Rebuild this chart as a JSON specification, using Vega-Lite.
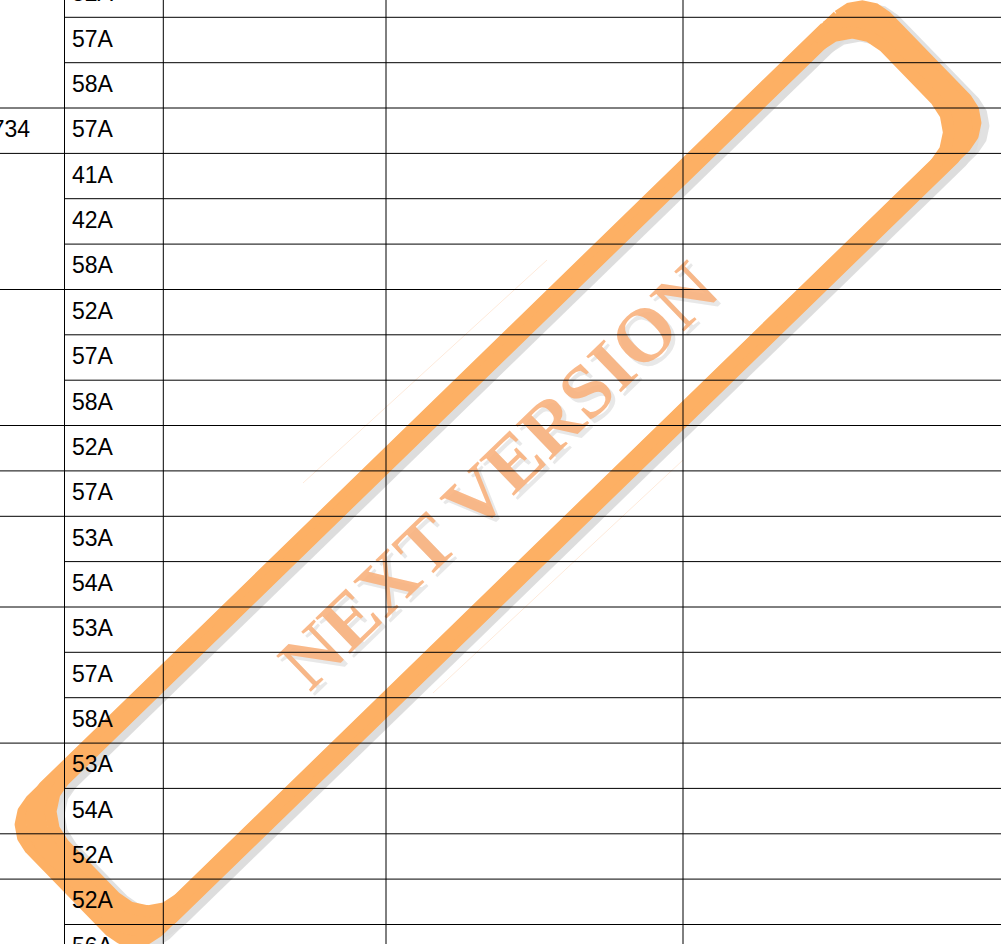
{
  "$schema": "https://vega.github.io/schema/vega-lite/v6.json",
  "width": 1001,
  "height": 944,
  "padding": 0,
  "autosize": {"type": "none"},
  "background": "white",
  "view": {"stroke": null},
  "datasets": {
    "ringMid": [
      {"i": 1, "x": 828.57, "y": 30.72},
      {"i": 2, "x": 841.67, "y": 22.23},
      {"i": 3, "x": 857.01, "y": 19.41},
      {"i": 4, "x": 872.28, "y": 22.66},
      {"i": 5, "x": 885.13, "y": 31.52},
      {"i": 6, "x": 950.86, "y": 99.13},
      {"i": 7, "x": 959.35, "y": 112.23},
      {"i": 8, "x": 962.16, "y": 127.58},
      {"i": 9, "x": 958.92, "y": 142.84},
      {"i": 10, "x": 950.06, "y": 155.69},
      {"i": 11, "x": 169.17, "y": 914.8},
      {"i": 12, "x": 156.08, "y": 923.29},
      {"i": 13, "x": 140.73, "y": 926.11},
      {"i": 14, "x": 125.46, "y": 922.86},
      {"i": 15, "x": 112.62, "y": 914.0},
      {"i": 16, "x": 46.89, "y": 846.39},
      {"i": 17, "x": 38.39, "y": 833.29},
      {"i": 18, "x": 35.58, "y": 817.94},
      {"i": 19, "x": 38.83, "y": 802.68},
      {"i": 20, "x": 47.68, "y": 789.83},
      {"i": 21, "x": 828.57, "y": 30.72}
    ],
    "ringOuter": [
      {"i": 1, "x": 838.04, "y": 15.94},
      {"i": 2, "x": 849.18, "y": 8.73},
      {"i": 3, "x": 862.22, "y": 6.32},
      {"i": 4, "x": 875.19, "y": 9.09},
      {"i": 5, "x": 886.12, "y": 16.62},
      {"i": 6, "x": 965.79, "y": 98.57},
      {"i": 7, "x": 972.99, "y": 109.7},
      {"i": 8, "x": 975.4, "y": 122.75},
      {"i": 9, "x": 972.63, "y": 135.72},
      {"i": 10, "x": 965.11, "y": 146.65},
      {"i": 11, "x": 157.98, "y": 931.26},
      {"i": 12, "x": 146.84, "y": 938.47},
      {"i": 13, "x": 133.8, "y": 940.87},
      {"i": 14, "x": 120.82, "y": 938.1},
      {"i": 15, "x": 109.9, "y": 930.58},
      {"i": 16, "x": 30.23, "y": 848.63},
      {"i": 17, "x": 23.02, "y": 837.49},
      {"i": 18, "x": 20.62, "y": 824.44},
      {"i": 19, "x": 23.39, "y": 811.48},
      {"i": 20, "x": 30.91, "y": 800.55},
      {"i": 21, "x": 838.04, "y": 15.94}
    ],
    "ringInner": [
      {"i": 1, "x": 819.1, "y": 45.51},
      {"i": 2, "x": 834.16, "y": 35.76},
      {"i": 3, "x": 851.81, "y": 32.5},
      {"i": 4, "x": 869.36, "y": 36.25},
      {"i": 5, "x": 884.14, "y": 46.43},
      {"i": 6, "x": 935.93, "y": 99.7},
      {"i": 7, "x": 945.68, "y": 114.76},
      {"i": 8, "x": 948.94, "y": 132.42},
      {"i": 9, "x": 945.19, "y": 149.98},
      {"i": 10, "x": 935.01, "y": 164.75},
      {"i": 11, "x": 180.36, "y": 898.35},
      {"i": 12, "x": 165.31, "y": 908.1},
      {"i": 13, "x": 147.65, "y": 911.36},
      {"i": 14, "x": 130.09, "y": 907.6},
      {"i": 15, "x": 115.32, "y": 897.42},
      {"i": 16, "x": 63.53, "y": 844.15},
      {"i": 17, "x": 53.77, "y": 829.09},
      {"i": 18, "x": 50.52, "y": 811.44},
      {"i": 19, "x": 54.28, "y": 793.88},
      {"i": 20, "x": 64.45, "y": 779.11},
      {"i": 21, "x": 819.1, "y": 45.51}
    ],
    "faint": [
      {"x": 303, "y": 483, "x2": 547, "y2": 260},
      {"x": 433, "y": 693, "x2": 683, "y2": 460}
    ],
    "stamp": [
      {"label": "NEXT VERSION", "x": 500, "y": 477}
    ],
    "hlines": [
      {"y": 17.3, "x1": 64.5, "x2": 1001},
      {"y": 62.7, "x1": 64.5, "x2": 1001},
      {"y": 108.0, "x1": 0, "x2": 1001},
      {"y": 153.4, "x1": 0, "x2": 1001},
      {"y": 198.7, "x1": 64.5, "x2": 1001},
      {"y": 244.1, "x1": 64.5, "x2": 1001},
      {"y": 289.5, "x1": 0, "x2": 1001},
      {"y": 334.8, "x1": 64.5, "x2": 1001},
      {"y": 380.2, "x1": 64.5, "x2": 1001},
      {"y": 425.5, "x1": 0, "x2": 1001},
      {"y": 470.9, "x1": 0, "x2": 1001},
      {"y": 516.3, "x1": 0, "x2": 1001},
      {"y": 561.6, "x1": 64.5, "x2": 1001},
      {"y": 607.0, "x1": 0, "x2": 1001},
      {"y": 652.3, "x1": 64.5, "x2": 1001},
      {"y": 697.7, "x1": 64.5, "x2": 1001},
      {"y": 743.1, "x1": 0, "x2": 1001},
      {"y": 788.4, "x1": 64.5, "x2": 1001},
      {"y": 833.8, "x1": 0, "x2": 1001},
      {"y": 879.1, "x1": 0, "x2": 1001},
      {"y": 924.5, "x1": 64.5, "x2": 1001}
    ],
    "vlines": [
      {"x": 64.5, "y1": 0, "y2": 944},
      {"x": 163.3, "y1": 0, "y2": 944},
      {"x": 386, "y1": 0, "y2": 944},
      {"x": 683, "y1": 0, "y2": 944}
    ],
    "colA": [
      {"x": 30, "y": 137.3, "label": "734"}
    ],
    "colB": [
      {"x": 72, "y": 1.2, "label": "52A"},
      {"x": 72, "y": 46.6, "label": "57A"},
      {"x": 72, "y": 92.0, "label": "58A"},
      {"x": 72, "y": 137.3, "label": "57A"},
      {"x": 72, "y": 182.7, "label": "41A"},
      {"x": 72, "y": 228.0, "label": "42A"},
      {"x": 72, "y": 273.4, "label": "58A"},
      {"x": 72, "y": 318.8, "label": "52A"},
      {"x": 72, "y": 364.1, "label": "57A"},
      {"x": 72, "y": 409.5, "label": "58A"},
      {"x": 72, "y": 454.8, "label": "52A"},
      {"x": 72, "y": 500.2, "label": "57A"},
      {"x": 72, "y": 545.6, "label": "53A"},
      {"x": 72, "y": 590.9, "label": "54A"},
      {"x": 72, "y": 636.3, "label": "53A"},
      {"x": 72, "y": 681.6, "label": "57A"},
      {"x": 72, "y": 727.0, "label": "58A"},
      {"x": 72, "y": 772.4, "label": "53A"},
      {"x": 72, "y": 817.7, "label": "54A"},
      {"x": 72, "y": 863.1, "label": "52A"},
      {"x": 72, "y": 908.4, "label": "52A"},
      {"x": 72, "y": 953.8, "label": "56A"}
    ]
  },
  "layer": [
    {
      "data": {"name": "ringOuter"},
      "mark": {"type": "line", "color": "#dcdcdc", "strokeWidth": 12, "strokeJoin": "round", "opacity": 0.85, "xOffset": 8, "yOffset": 3},
      "encoding": {
        "x": {"field": "x", "type": "quantitative", "scale": {"domain": [0, 1001], "nice": false, "zero": false}, "axis": null},
        "y": {"field": "y", "type": "quantitative", "scale": {"domain": [0, 944], "reverse": true, "nice": false, "zero": false}, "axis": null},
        "order": {"field": "i", "type": "quantitative"}
      }
    },
    {
      "data": {"name": "ringMid"},
      "mark": {"type": "line", "color": "#dcdcdc", "strokeWidth": 21, "strokeJoin": "round", "opacity": 0.85, "xOffset": 8, "yOffset": 3},
      "encoding": {
        "x": {"field": "x", "type": "quantitative", "scale": {"domain": [0, 1001], "nice": false, "zero": false}, "axis": null},
        "y": {"field": "y", "type": "quantitative", "scale": {"domain": [0, 944], "reverse": true, "nice": false, "zero": false}, "axis": null},
        "order": {"field": "i", "type": "quantitative"}
      }
    },
    {
      "data": {"name": "ringInner"},
      "mark": {"type": "line", "color": "#dcdcdc", "strokeWidth": 12, "strokeJoin": "round", "opacity": 0.85, "xOffset": 8, "yOffset": 3},
      "encoding": {
        "x": {"field": "x", "type": "quantitative", "scale": {"domain": [0, 1001], "nice": false, "zero": false}, "axis": null},
        "y": {"field": "y", "type": "quantitative", "scale": {"domain": [0, 944], "reverse": true, "nice": false, "zero": false}, "axis": null},
        "order": {"field": "i", "type": "quantitative"}
      }
    },
    {
      "data": {"name": "ringOuter"},
      "mark": {"type": "line", "color": "#fdb064", "strokeWidth": 12, "strokeJoin": "round"},
      "encoding": {
        "x": {"field": "x", "type": "quantitative", "scale": {"domain": [0, 1001], "nice": false, "zero": false}, "axis": null},
        "y": {"field": "y", "type": "quantitative", "scale": {"domain": [0, 944], "reverse": true, "nice": false, "zero": false}, "axis": null},
        "order": {"field": "i", "type": "quantitative"}
      }
    },
    {
      "data": {"name": "ringMid"},
      "mark": {"type": "line", "color": "#fdb064", "strokeWidth": 21, "strokeJoin": "round"},
      "encoding": {
        "x": {"field": "x", "type": "quantitative", "scale": {"domain": [0, 1001], "nice": false, "zero": false}, "axis": null},
        "y": {"field": "y", "type": "quantitative", "scale": {"domain": [0, 944], "reverse": true, "nice": false, "zero": false}, "axis": null},
        "order": {"field": "i", "type": "quantitative"}
      }
    },
    {
      "data": {"name": "ringInner"},
      "mark": {"type": "line", "color": "#fdb064", "strokeWidth": 12, "strokeJoin": "round"},
      "encoding": {
        "x": {"field": "x", "type": "quantitative", "scale": {"domain": [0, 1001], "nice": false, "zero": false}, "axis": null},
        "y": {"field": "y", "type": "quantitative", "scale": {"domain": [0, 944], "reverse": true, "nice": false, "zero": false}, "axis": null},
        "order": {"field": "i", "type": "quantitative"}
      }
    },
    {
      "data": {"name": "faint"},
      "mark": {"type": "rule", "color": "#feeadb", "strokeWidth": 1},
      "encoding": {
        "x": {"field": "x", "type": "quantitative", "scale": {"domain": [0, 1001], "nice": false, "zero": false}, "axis": null},
        "y": {"field": "y", "type": "quantitative", "scale": {"domain": [0, 944], "reverse": true, "nice": false, "zero": false}, "axis": null},
        "x2": {"field": "x2"},
        "y2": {"field": "y2"}
      }
    },
    {
      "data": {"name": "stamp"},
      "mark": {"type": "text", "font": "Liberation Serif", "fontWeight": "bold", "fontSize": 76, "angle": -44, "align": "center", "baseline": "middle", "color": "#dadada", "opacity": 0.6, "xOffset": 4, "yOffset": 4},
      "encoding": {
        "x": {"field": "x", "type": "quantitative", "scale": {"domain": [0, 1001], "nice": false, "zero": false}, "axis": null},
        "y": {"field": "y", "type": "quantitative", "scale": {"domain": [0, 944], "reverse": true, "nice": false, "zero": false}, "axis": null},
        "text": {"field": "label"}
      }
    },
    {
      "data": {"name": "stamp"},
      "mark": {"type": "text", "font": "Liberation Serif", "fontWeight": "bold", "fontSize": 76, "angle": -44, "align": "center", "baseline": "middle", "color": "#f9b27e", "opacity": 0.9},
      "encoding": {
        "x": {"field": "x", "type": "quantitative", "scale": {"domain": [0, 1001], "nice": false, "zero": false}, "axis": null},
        "y": {"field": "y", "type": "quantitative", "scale": {"domain": [0, 944], "reverse": true, "nice": false, "zero": false}, "axis": null},
        "text": {"field": "label"}
      }
    },
    {
      "data": {"name": "hlines"},
      "mark": {"type": "rule", "color": "#000000", "strokeWidth": 1},
      "encoding": {
        "x": {"field": "x1", "type": "quantitative", "scale": {"domain": [0, 1001], "nice": false, "zero": false}, "axis": null},
        "x2": {"field": "x2"},
        "y": {"field": "y", "type": "quantitative", "scale": {"domain": [0, 944], "reverse": true, "nice": false, "zero": false}, "axis": null}
      }
    },
    {
      "data": {"name": "vlines"},
      "mark": {"type": "rule", "color": "#000000", "strokeWidth": 1},
      "encoding": {
        "x": {"field": "x", "type": "quantitative", "scale": {"domain": [0, 1001], "nice": false, "zero": false}, "axis": null},
        "y": {"field": "y1", "type": "quantitative", "scale": {"domain": [0, 944], "reverse": true, "nice": false, "zero": false}, "axis": null},
        "y2": {"field": "y2"}
      }
    },
    {
      "data": {"name": "colA"},
      "mark": {"type": "text", "font": "Liberation Sans", "fontSize": 23, "align": "right", "baseline": "alphabetic", "color": "#000000"},
      "encoding": {
        "x": {"field": "x", "type": "quantitative", "scale": {"domain": [0, 1001], "nice": false, "zero": false}, "axis": null},
        "y": {"field": "y", "type": "quantitative", "scale": {"domain": [0, 944], "reverse": true, "nice": false, "zero": false}, "axis": null},
        "text": {"field": "label"}
      }
    },
    {
      "data": {"name": "colB"},
      "mark": {"type": "text", "font": "Liberation Sans", "fontSize": 23, "align": "left", "baseline": "alphabetic", "color": "#000000"},
      "encoding": {
        "x": {"field": "x", "type": "quantitative", "scale": {"domain": [0, 1001], "nice": false, "zero": false}, "axis": null},
        "y": {"field": "y", "type": "quantitative", "scale": {"domain": [0, 944], "reverse": true, "nice": false, "zero": false}, "axis": null},
        "text": {"field": "label"}
      }
    }
  ]
}
